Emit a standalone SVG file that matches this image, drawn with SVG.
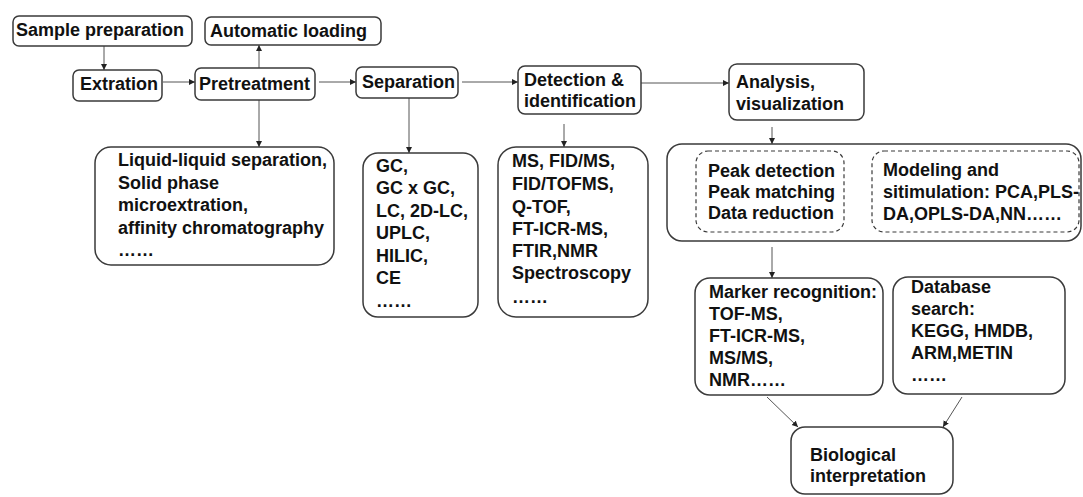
<svg xmlns="http://www.w3.org/2000/svg" width="1083" height="497" viewBox="0 0 1083 497">
  <style>
    .box { fill: #ffffff; stroke: #3a3a3a; stroke-width: 1.5; }
    .dash { fill: none; stroke: #3a3a3a; stroke-width: 1.2; stroke-dasharray: 4 3; }
    .lbl { font-family: "Liberation Sans", Arial, sans-serif; font-weight: bold; font-size: 18px; fill: #111111; }
    .conn { fill: none; stroke: #555555; stroke-width: 1; marker-end: url(#arrow); }
  </style>
  <defs>
    <marker id="arrow" markerUnits="userSpaceOnUse" markerWidth="8" markerHeight="8" refX="6" refY="3" orient="auto">
      <path d="M0,0 L6,3 L0,6 Z" fill="#222222"/>
    </marker>
  </defs>
  <rect width="1083" height="497" fill="#ffffff"/>

  <g id="connectors">
    <line class="conn" x1="104" y1="46" x2="104" y2="70"/>
    <line class="conn" x1="163" y1="82" x2="195" y2="82"/>
    <line class="conn" x1="259" y1="68" x2="259" y2="45"/>
    <line class="conn" x1="319" y1="82" x2="356" y2="82"/>
    <line class="conn" x1="462" y1="82" x2="518" y2="82"/>
    <line class="conn" x1="641" y1="83" x2="729" y2="83"/>
    <line class="conn" x1="259" y1="100" x2="259" y2="147"/>
    <line class="conn" x1="409" y1="98" x2="409" y2="153"/>
    <line class="conn" x1="564" y1="124" x2="564" y2="147"/>
    <line class="conn" x1="772" y1="127" x2="772" y2="144"/>
    <line class="conn" x1="848" y1="200" x2="871" y2="200"/>
    <line class="conn" x1="772" y1="247" x2="772" y2="278"/>
    <line class="conn" x1="767" y1="397" x2="798" y2="427"/>
    <line class="conn" x1="962" y1="397" x2="943" y2="427"/>
  </g>

  <g id="sample-preparation">
    <rect class="box" x="13" y="16" width="179" height="30" rx="6"/>
    <text class="lbl" x="16" y="36">Sample preparation</text>
  </g>
  <g id="automatic-loading">
    <rect class="box" x="205" y="17" width="176" height="28" rx="6"/>
    <text class="lbl" x="210" y="37">Automatic loading</text>
  </g>
  <g id="extration">
    <rect class="box" x="73" y="70" width="89" height="31" rx="6"/>
    <text class="lbl" x="80" y="90">Extration</text>
  </g>
  <g id="pretreatment">
    <rect class="box" x="195" y="68" width="120" height="32" rx="6"/>
    <text class="lbl" x="199" y="90">Pretreatment</text>
  </g>
  <g id="separation">
    <rect class="box" x="356" y="67" width="102" height="31" rx="6"/>
    <text class="lbl" x="362" y="88">Separation</text>
  </g>
  <g id="detection">
    <rect class="box" x="518" y="66" width="123" height="48" rx="7"/>
    <text class="lbl" x="524" y="86">Detection &amp;</text>
    <text class="lbl" x="524" y="107">identification</text>
  </g>
  <g id="analysis">
    <rect class="box" x="729" y="64" width="135" height="56" rx="8"/>
    <text class="lbl" x="736" y="88">Analysis,</text>
    <text class="lbl" x="736" y="110">visualization</text>
  </g>

  <g id="pretreatment-methods">
    <rect class="box" x="95" y="147" width="239" height="118" rx="16"/>
    <text class="lbl" x="118" y="166">Liquid-liquid separation,</text>
    <text class="lbl" x="118" y="189">Solid phase</text>
    <text class="lbl" x="118" y="211">microextration,</text>
    <text class="lbl" x="118" y="234">affinity chromatography</text>
    <text class="lbl" x="118" y="256">……</text>
  </g>
  <g id="separation-methods">
    <rect class="box" x="363" y="153" width="115" height="164" rx="15"/>
    <text class="lbl" x="376" y="172">GC,</text>
    <text class="lbl" x="376" y="194">GC x GC,</text>
    <text class="lbl" x="376" y="217">LC, 2D-LC,</text>
    <text class="lbl" x="376" y="239">UPLC,</text>
    <text class="lbl" x="376" y="262">HILIC,</text>
    <text class="lbl" x="376" y="284">CE</text>
    <text class="lbl" x="376" y="307">……</text>
  </g>
  <g id="detection-methods">
    <rect class="box" x="498" y="147" width="150" height="170" rx="18"/>
    <text class="lbl" x="512" y="167">MS, FID/MS,</text>
    <text class="lbl" x="512" y="190">FID/TOFMS,</text>
    <text class="lbl" x="512" y="213">Q-TOF,</text>
    <text class="lbl" x="512" y="235">FT-ICR-MS,</text>
    <text class="lbl" x="512" y="257">FTIR,NMR</text>
    <text class="lbl" x="512" y="279">Spectroscopy</text>
    <text class="lbl" x="512" y="303">……</text>
  </g>

  <g id="data-processing">
    <rect class="box" x="667" y="144" width="414" height="97" rx="15"/>
  </g>
  <g id="peak-processing">
    <rect class="dash" x="696" y="151" width="148" height="81" rx="12"/>
    <text class="lbl" x="708" y="177">Peak detection</text>
    <text class="lbl" x="708" y="198">Peak matching</text>
    <text class="lbl" x="708" y="219">Data reduction</text>
  </g>
  <g id="modeling">
    <rect class="dash" x="872" y="151" width="207" height="81" rx="12"/>
    <text class="lbl" x="883" y="176">Modeling and</text>
    <text class="lbl" x="883" y="198">sitimulation: PCA,PLS-</text>
    <text class="lbl" x="883" y="220">DA,OPLS-DA,NN……</text>
  </g>

  <g id="marker-recognition">
    <rect class="box" x="695" y="278" width="188" height="117" rx="15"/>
    <text class="lbl" x="709" y="298">Marker recognition:</text>
    <text class="lbl" x="709" y="320">TOF-MS,</text>
    <text class="lbl" x="709" y="342">FT-ICR-MS,</text>
    <text class="lbl" x="709" y="364">MS/MS,</text>
    <text class="lbl" x="709" y="386">NMR……</text>
  </g>
  <g id="database-search">
    <rect class="box" x="893" y="277" width="172" height="117" rx="15"/>
    <text class="lbl" x="911" y="293">Database</text>
    <text class="lbl" x="911" y="315">search:</text>
    <text class="lbl" x="911" y="337">KEGG, HMDB,</text>
    <text class="lbl" x="911" y="359">ARM,METIN</text>
    <text class="lbl" x="911" y="381">……</text>
  </g>
  <g id="biological-interpretation">
    <rect class="box" x="791" y="427" width="162" height="67" rx="14"/>
    <text class="lbl" x="810" y="461">Biological</text>
    <text class="lbl" x="810" y="482">interpretation</text>
  </g>
</svg>
